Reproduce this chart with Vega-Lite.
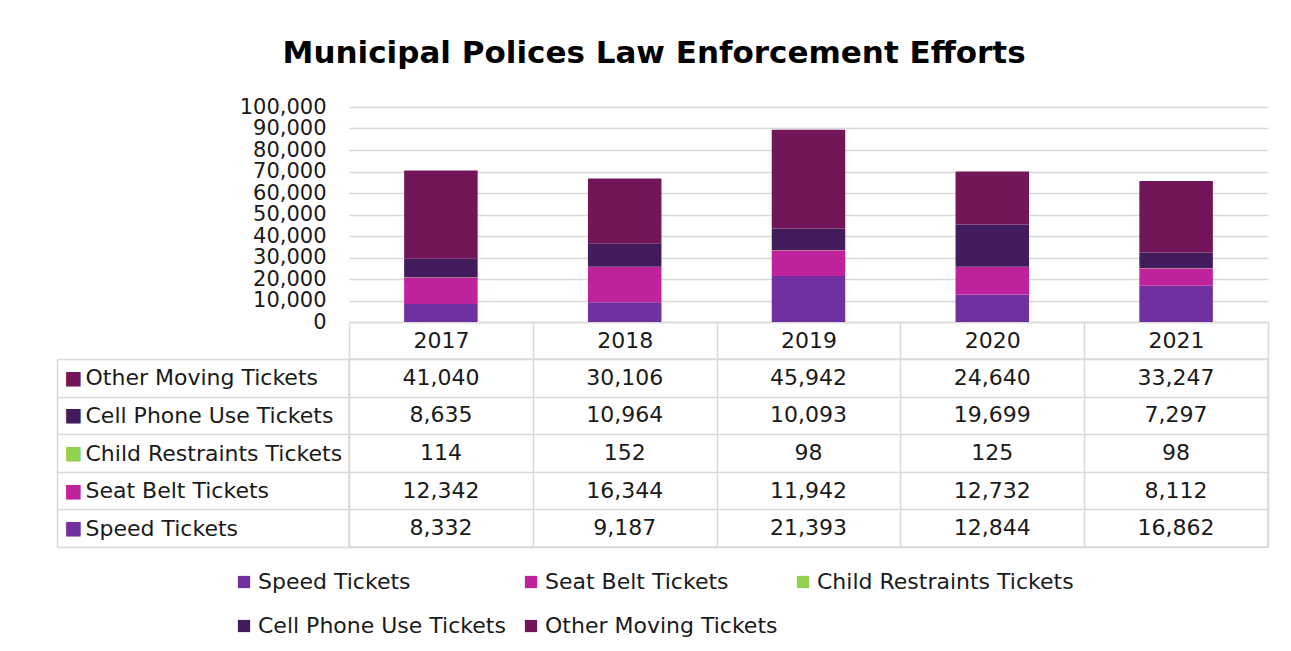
{
  "$schema": "https://vega.github.io/schema/vega-lite/v6.json",
  "background": "white",
  "padding": {"left": 55, "top": 38, "right": 20, "bottom": 5},
  "config": {"font": "DejaVu Sans"},
  "title": {"text": "Municipal Polices Law Enforcement Efforts", "fontSize": 31, "font": "DejaVu Sans", "fontWeight": "bold", "color": "#000000", "anchor": "middle", "offset": 26, "dx": -8},
  "data": {"values": [
    {"Year": "2017", "Series": "Speed Tickets", "Rank": 1, "Tickets": 8332},
    {"Year": "2018", "Series": "Speed Tickets", "Rank": 1, "Tickets": 9187},
    {"Year": "2019", "Series": "Speed Tickets", "Rank": 1, "Tickets": 21393},
    {"Year": "2020", "Series": "Speed Tickets", "Rank": 1, "Tickets": 12844},
    {"Year": "2021", "Series": "Speed Tickets", "Rank": 1, "Tickets": 16862},
    {"Year": "2017", "Series": "Seat Belt Tickets", "Rank": 2, "Tickets": 12342},
    {"Year": "2018", "Series": "Seat Belt Tickets", "Rank": 2, "Tickets": 16344},
    {"Year": "2019", "Series": "Seat Belt Tickets", "Rank": 2, "Tickets": 11942},
    {"Year": "2020", "Series": "Seat Belt Tickets", "Rank": 2, "Tickets": 12732},
    {"Year": "2021", "Series": "Seat Belt Tickets", "Rank": 2, "Tickets": 8112},
    {"Year": "2017", "Series": "Child Restraints Tickets", "Rank": 3, "Tickets": 114},
    {"Year": "2018", "Series": "Child Restraints Tickets", "Rank": 3, "Tickets": 152},
    {"Year": "2019", "Series": "Child Restraints Tickets", "Rank": 3, "Tickets": 98},
    {"Year": "2020", "Series": "Child Restraints Tickets", "Rank": 3, "Tickets": 125},
    {"Year": "2021", "Series": "Child Restraints Tickets", "Rank": 3, "Tickets": 98},
    {"Year": "2017", "Series": "Cell Phone Use Tickets", "Rank": 4, "Tickets": 8635},
    {"Year": "2018", "Series": "Cell Phone Use Tickets", "Rank": 4, "Tickets": 10964},
    {"Year": "2019", "Series": "Cell Phone Use Tickets", "Rank": 4, "Tickets": 10093},
    {"Year": "2020", "Series": "Cell Phone Use Tickets", "Rank": 4, "Tickets": 19699},
    {"Year": "2021", "Series": "Cell Phone Use Tickets", "Rank": 4, "Tickets": 7297},
    {"Year": "2017", "Series": "Other Moving Tickets", "Rank": 5, "Tickets": 41040},
    {"Year": "2018", "Series": "Other Moving Tickets", "Rank": 5, "Tickets": 30106},
    {"Year": "2019", "Series": "Other Moving Tickets", "Rank": 5, "Tickets": 45942},
    {"Year": "2020", "Series": "Other Moving Tickets", "Rank": 5, "Tickets": 24640},
    {"Year": "2021", "Series": "Other Moving Tickets", "Rank": 5, "Tickets": 33247}
  ]},
  "spacing": -14,
  "resolve": {"scale": {"color": "shared"}, "legend": {"color": "shared"}},
  "vconcat": [
    {
      "width": 919,
      "height": 215,
      "view": {"stroke": null},
      "mark": {"type": "bar", "width": {"band": 0.4}},
      "encoding": {
        "x": {
          "field": "Year", "type": "nominal",
          "scale": {"paddingInner": 0, "paddingOuter": 0},
          "axis": {"title": null, "labelAngle": 0, "orient": "bottom", "domain": true, "domainColor": "#D9D9D9", "domainWidth": 1.5, "ticks": true, "tickBand": "extent", "tickSize": 36, "tickColor": "#D9D9D9", "tickWidth": 1.5, "labelPadding": -18, "labelBaseline": "middle", "labelFontSize": 22, "labelColor": "#1a1a1a", "labelFont": "DejaVu Sans", "maxExtent": 36}
        },
        "y": {
          "field": "Tickets", "type": "quantitative", "stack": "zero",
          "scale": {"domain": [0, 100000]},
          "axis": {"title": null, "values": [0, 10000, 20000, 30000, 40000, 50000, 60000, 70000, 80000, 90000, 100000], "format": ",d", "domain": false, "ticks": false, "grid": true, "gridColor": "#D9D9D9", "gridWidth": 1.5, "labelPadding": 23, "labelFontSize": 21, "labelFont": "DejaVu Sans", "labelColor": "#1a1a1a", "labelOverlap": false, "minExtent": 292, "maxExtent": 292}
        },
        "order": {"field": "Rank", "type": "quantitative", "sort": "ascending"},
        "color": {
          "field": "Series", "type": "nominal",
          "sort": ["Speed Tickets", "Seat Belt Tickets", "Child Restraints Tickets", "Cell Phone Use Tickets", "Other Moving Tickets"],
          "scale": {"domain": ["Speed Tickets", "Seat Belt Tickets", "Child Restraints Tickets", "Cell Phone Use Tickets", "Other Moving Tickets"], "range": ["#7030A0", "#C0219D", "#92D050", "#431C5D", "#731659"]},
          "legend": {"title": null, "orient": "none", "legendX": -116, "legendY": 464, "direction": "horizontal", "columns": 3, "symbolType": "square", "symbolSize": 150, "symbolStrokeWidth": 0, "labelFontSize": 22, "labelFont": "DejaVu Sans", "labelColor": "#1a1a1a", "columnPadding": 14, "rowPadding": 22, "labelOffset": 3, "labelLimit": 400}
        }
      }
    },
    {
      "width": 919,
      "height": 188,
      "view": {"stroke": "#D9D9D9", "strokeWidth": 1.5},
      "layer": [
        {
          "mark": {"type": "text", "fontSize": 22, "font": "DejaVu Sans", "color": "#1a1a1a"},
          "encoding": {
            "x": {"field": "Year", "type": "nominal", "scale": {"paddingInner": 0, "paddingOuter": 0},
              "axis": {"title": null, "orient": "bottom", "grid": true, "tickBand": "extent", "gridColor": "#D9D9D9", "gridWidth": 1.5, "labels": false, "ticks": false, "domain": false}},
            "y": {"field": "Series", "type": "nominal",
              "sort": ["Other Moving Tickets", "Cell Phone Use Tickets", "Child Restraints Tickets", "Seat Belt Tickets", "Speed Tickets"],
              "axis": {"title": null, "orient": "left", "tickBand": "extent", "tickSize": 292, "tickColor": "#D9D9D9", "tickWidth": 1.5, "grid": true, "gridColor": "#D9D9D9", "gridWidth": 1.5, "domain": false, "labelAlign": "left", "labelBaseline": "middle", "labelPadding": -28, "labelFontSize": 22, "labelFont": "DejaVu Sans", "labelColor": "#1a1a1a", "labelLimit": 400}},
            "text": {"field": "Tickets", "type": "quantitative", "format": ",d"}
          }
        },
        {
          "mark": {"type": "text", "opacity": 0},
          "encoding": {
            "x": {"field": "Year", "type": "nominal"},
            "y": {"field": "Series", "type": "nominal",
              "sort": ["Other Moving Tickets", "Cell Phone Use Tickets", "Child Restraints Tickets", "Seat Belt Tickets", "Speed Tickets"],
              "axis": {"title": null, "orient": "left", "offset": 292, "domain": true, "domainColor": "#D9D9D9", "domainWidth": 1.5, "ticks": false, "grid": false, "labelExpr": "'■'", "labelAlign": "left", "labelBaseline": "middle", "labelPadding": -7, "labelFontSize": 19,
                "labelColor": {"condition": [
                  {"test": "datum.value === 'Speed Tickets'", "value": "#7030A0"},
                  {"test": "datum.value === 'Seat Belt Tickets'", "value": "#C0219D"},
                  {"test": "datum.value === 'Child Restraints Tickets'", "value": "#92D050"},
                  {"test": "datum.value === 'Cell Phone Use Tickets'", "value": "#431C5D"}
                ], "value": "#731659"}}},
            "text": {"field": "Tickets", "type": "quantitative", "format": ",d"}
          }
        }
      ],
      "resolve": {"axis": {"y": "independent"}}
    }
  ]
}
